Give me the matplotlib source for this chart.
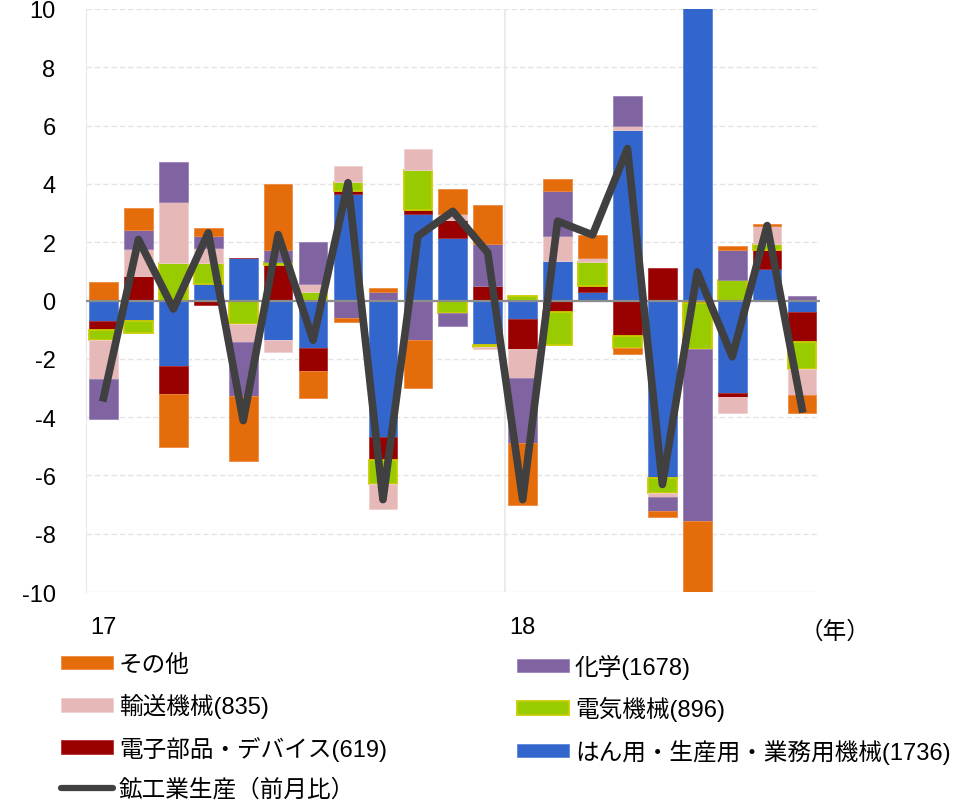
import numpy as np
import matplotlib.pyplot as plt
from matplotlib.lines import Line2D
from matplotlib.patches import Patch

plt.rcParams['font.family'] = ['Liberation Sans', 'Noto Sans CJK JP', 'DejaVu Sans']
plt.rcParams['axes.unicode_minus'] = False

# month index 2017/1 .. 2018/9
months = ['17', '', '', '', '', '', '', '', '', '', '', '',
          '18', '', '', '', '', '', '', '', '']

general = [-0.72, -0.69, -2.25, 0.55, 1.45, -1.34, -1.62, 3.66, -4.69, 2.95, 2.15,
           -1.51, -0.65, 1.37, 0.29, 5.84, -6.08, 10.3, -3.17, 1.09, -0.38]
electronic = [-0.30, 0.83, -0.95, -0.17, 0.0, 1.23, -0.80, 0.09, -0.79, 0.17, 0.60,
              0.49, -1.03, -0.39, 0.20, -1.22, 1.10, -0.10, -0.13, 0.65, -1.05]
electric = [-0.34, -0.42, 1.29, 0.74, -0.79, 0.10, 0.28, 0.31, -0.83, 1.37, -0.42,
            -0.09, 0.15, -1.14, 0.82, -0.40, -0.52, -1.56, 0.69, 0.20, -0.93]
transport = [-1.34, 0.95, 2.08, 0.50, -0.63, -0.41, 0.27, 0.55, -0.84, 0.71, 0.20,
             -0.08, -0.97, 0.84, 0.14, 0.14, -0.15, 0.0, -0.55, 0.62, -0.88]
chemical = [-1.37, 0.63, 1.38, 0.42, -1.84, 0.40, 1.45, -0.60, 0.29, -1.34, -0.44,
            1.45, -2.25, 1.56, 0.0, 1.03, -0.48, -5.90, 1.05, 0.0, 0.17]
others = [0.63, 0.76, -1.83, 0.27, -2.25, 2.26, -0.92, -0.13, 0.14, -1.66, 0.89,
          1.35, -2.10, 0.41, 0.81, -0.20, -0.20, -2.6, 0.13, 0.06, -0.61]
total = [-3.34, 2.09, -0.29, 2.32, -4.12, 2.26, -1.36, 4.04, -6.83, 2.21, 3.06,
         1.64, -6.83, 2.72, 2.25, 5.21, -6.31, 0.98, -1.93, 2.57, -3.72]

series = [
    ('はん用・生産用・業務用機械(1736)', general, '#3366cc', '#5a86dc'),
    ('電子部品・デバイス(619)', electronic, '#990000', '#b03030'),
    ('電気機械(896)', electric, '#99cc00', '#cccc00'),
    ('輸送機械(835)', transport, '#e6b9b8', '#f0d0d0'),
    ('化学(1678)', chemical, '#8064a2', '#9a84b8'),
    ('その他', others, '#e46c0a', '#f08a40'),
]

FS = 17

fig = plt.figure(figsize=(9.78, 8.04), dpi=100)
ax = fig.add_axes([0.088, 0.2624, 0.75, 0.7252])

x = np.arange(len(total))
pos_base = np.zeros(len(x))
neg_base = np.zeros(len(x))
handles = {}
for name, vals, col, edge in series:
    v = np.array(vals)
    base = np.where(v >= 0, pos_base, neg_base)
    lw = 1.3 if name.startswith('電気') else 0.6
    ax.bar(x, v, 0.82, bottom=base, color=col, edgecolor=edge, linewidth=lw, zorder=2)
    pos_base += np.where(v >= 0, v, 0)
    neg_base += np.where(v < 0, v, 0)
    handles[name] = Patch(facecolor=col, edgecolor=edge, linewidth=lw)

ax.plot(x, total, color='#404040', linewidth=5.5, zorder=4, solid_joinstyle='round')
handles['鉱工業生産（前月比）'] = Line2D([], [], color='#404040', linewidth=4.5,
                                   solid_capstyle='round')

ax.set_xlim(-0.5, len(x) - 0.5)
ax.set_ylim(-10, 10)
ax.set_yticks(range(-10, 11, 2))
ax.set_xticks(x)
ax.set_xticklabels(months)
ax.tick_params(axis='y', length=0, pad=22, labelsize=FS)
ax.tick_params(axis='x', length=0, pad=17, labelsize=FS)

ax.grid(axis='y', color='#e4e4e4', linestyle=(0, (4, 2)), linewidth=1, zorder=0)
ax.axhline(0, color='#8c8c8c', linewidth=1.6, zorder=3)
ax.axvline(11.5, color='#e8e8e8', linewidth=1.2, zorder=0)
for s in ['top', 'right', 'bottom']:
    ax.spines[s].set_visible(False)
ax.spines['left'].set_color('#e8e8e8')

fig.text(835 / 978, 1 - 633 / 804, '（年）', fontsize=FS, ha='center', va='center')

left_names = ['その他', '輸送機械(835)', '電子部品・デバイス(619)', '鉱工業生産（前月比）']
right_names = ['化学(1678)', '電気機械(896)', 'はん用・生産用・業務用機械(1736)']
leg_kw = dict(frameon=False, fontsize=FS, handlelength=2.2, handleheight=0.5,
              handletextpad=0.25, labelspacing=0.73, borderpad=0, borderaxespad=0,
              loc='upper left')
leg1 = fig.legend([handles[n] for n in left_names], left_names,
                  bbox_to_anchor=(61 / 978, 1 - 655 / 804), **leg_kw)
leg2 = fig.legend([handles[n] for n in right_names], right_names,
                  bbox_to_anchor=(517 / 978, 1 - 655 / 804), **leg_kw)

fig.savefig('out.png', dpi=100)
